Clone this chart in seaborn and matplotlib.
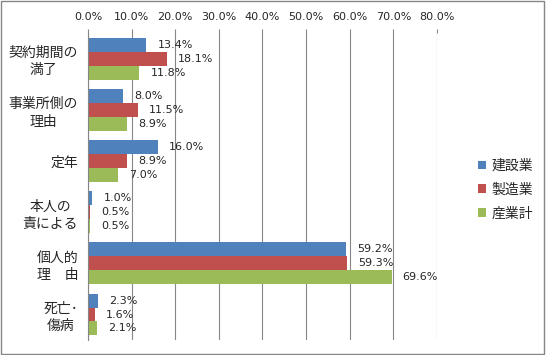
import matplotlib
matplotlib.use("Agg")
import matplotlib.pyplot as plt
import seaborn as sns
import pandas as pd
import numpy as np
from matplotlib.patches import Rectangle
from matplotlib.ticker import FuncFormatter

# data
categories = ["契約期間の\n満了", "事業所側の\n理由", "定年", "本人の\n責による", "個人的\n理　由", "死亡･\n傷病"]
series = ["建設業", "製造業", "産業計"]
kensetsu = [13.4, 8.0, 16.0, 1.0, 59.2, 2.3]
seizou = [18.1, 11.5, 8.9, 0.5, 59.3, 1.6]
sangyoukei = [11.8, 8.9, 7.0, 0.5, 69.6, 2.1]
colors = ["#4F81BD", "#C0504D", "#9BBB59"]

rows = []
for s, vals in zip(series, [kensetsu, seizou, sangyoukei]):
    for c, v in zip(categories, vals):
        rows.append({"category": c, "series": s, "value": v})
df = pd.DataFrame(rows)

sns.set_style("white")
plt.rcParams["font.family"] = ["Noto Sans CJK JP", "DejaVu Sans"]

fig = plt.figure(figsize=(5.46, 3.55), dpi=100)
ax = fig.add_axes([0.161, 0.042, 0.64, 0.865])

sns.barplot(data=df, y="category", x="value", hue="series", order=categories,
            hue_order=series, palette=colors, orient="h", width=0.82,
            saturation=1, linewidth=0, edgecolor="none", ax=ax, legend=True)

for cont in ax.containers:
    ax.bar_label(cont, fmt="%.1f%%", padding=8, fontsize=8, family="DejaVu Sans")

ax.set_xlim(0, 80.1)
ax.set_ylim(len(categories) - 0.5, -0.5)
ax.set_xticks(np.arange(0, 81, 10))
ax.xaxis.set_major_formatter(FuncFormatter(lambda v, p: f"{v:.1f}%"))
ax.xaxis.tick_top()
ax.tick_params(axis="x", which="major", direction="out", length=3, color="#868686",
               labelsize=8, pad=5)
ax.grid(axis="x", color="#868686", linewidth=0.8)
ax.set_axisbelow(True)
ax.set_xlabel("")
ax.set_ylabel("")

ax.set_yticks(np.arange(len(categories)))
ax.set_yticklabels(categories, fontsize=10, multialignment="center", linespacing=1.3)
ax.set_yticks(np.arange(-0.5, len(categories)), minor=True)
ax.tick_params(axis="y", which="major", length=0, pad=7)
ax.tick_params(axis="y", which="minor", length=4, color="#868686", direction="out")

for side in ["top", "right", "bottom"]:
    ax.spines[side].set_visible(False)
ax.spines["left"].set_color("#868686")
ax.spines["left"].set_linewidth(0.8)

for lbl in ax.get_xticklabels():
    lbl.set_family("DejaVu Sans")

ax.legend(loc="center left", bbox_to_anchor=(1.08, 0.49), frameon=False,
          fontsize=10, handlelength=0.6, handleheight=0.6, handletextpad=0.4,
          labelspacing=0.7)

fig.patches.append(Rectangle((0.002, 0.003), 0.995, 0.993, transform=fig.transFigure,
                             fill=False, edgecolor="#868686", linewidth=1))

fig.savefig("out.png", dpi=100)
